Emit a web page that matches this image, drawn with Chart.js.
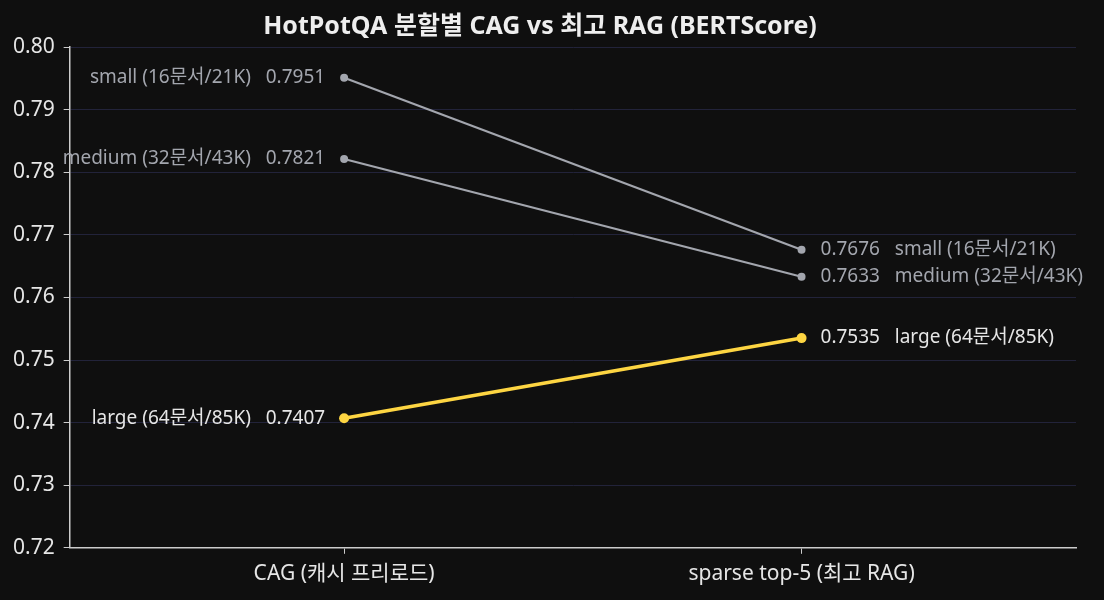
<!DOCTYPE html>
<html>
<head>
<meta charset="utf-8">
<script src="https://cdn.jsdelivr.net/npm/chart.js@4.4.1/dist/chart.umd.min.js"></script>
<style>
  html, body { margin: 0; padding: 0; background: #0f0f0f; }
  #wrap { width: 1104px; height: 600px; }
</style>
</head>
<body>
<div id="wrap"><canvas id="c" width="1104" height="600"></canvas></div>
<script>
const categories = ["CAG (캐시 프리로드)", "sparse top-5 (최고 RAG)"];
const splits = ["small (16문서/21K)", "medium (32문서/43K)", "large (64문서/85K)"];
const cagScores = [0.7951, 0.7821, 0.7407];
const ragScores = [0.7676, 0.7633, 0.7535];
const yTicks = [0.72, 0.73, 0.74, 0.75, 0.76, 0.77, 0.78, 0.79, 0.80];

const lineColors = ["#a3a6ae", "#a3a6ae", "#fdd542"];
const textColors = ["#a3a6ae", "#a3a6ae", "#e6e6e6"];
const widths = [2.2, 2.2, 3.6];
const radii = [4, 4, 5];
const FONT = "'Noto Sans', 'Noto Sans CJK KR', sans-serif";

const datasets = splits.map((name, i) => ({
  label: name,
  data: [{ x: 0, y: cagScores[i] }, { x: 1, y: ragScores[i] }],
  borderColor: lineColors[i],
  backgroundColor: lineColors[i],
  pointBackgroundColor: lineColors[i],
  pointBorderWidth: 0,
  borderWidth: widths[i],
  pointRadius: radii[i],
  fill: false,
  tension: 0
}));

const endLabels = {
  id: "endLabels",
  afterDatasetsDraw(chart) {
    const ctx = chart.ctx;
    ctx.save();
    ctx.font = "19px " + FONT;
    ctx.textBaseline = "middle";
    chart.data.datasets.forEach((ds, i) => {
      const pts = chart.getDatasetMeta(i).data;
      ctx.fillStyle = textColors[i];
      ctx.textAlign = "right";
      ctx.fillText(splits[i] + "   " + cagScores[i].toFixed(4), pts[0].x - 19, pts[0].y);
      ctx.textAlign = "left";
      ctx.fillText(ragScores[i].toFixed(4) + "   " + splits[i], pts[1].x + 19, pts[1].y);
    });
    ctx.restore();
  }
};

const bg = {
  id: "bg",
  beforeDraw(chart) {
    const ctx = chart.ctx;
    ctx.save();
    ctx.fillStyle = "#0f0f0f";
    ctx.fillRect(0, 0, chart.width, chart.height);
    ctx.restore();
  }
};

new Chart(document.getElementById("c"), {
  type: "line",
  data: { datasets },
  plugins: [bg, endLabels],
  options: {
    responsive: false,
    animation: false,
    layout: { padding: { left: 4, right: 28, top: 0, bottom: 5 } },
    plugins: {
      legend: { display: false },
      tooltip: { enabled: false },
      title: {
        display: true,
        text: "HotPotQA 분할별 CAG vs 최고 RAG (BERTScore)",
        color: "#eeeeee",
        font: { family: FONT, size: 25, weight: "bold" },
        padding: { top: 12, bottom: 5 }
      }
    },
    scales: {
      x: {
        type: "linear",
        min: -0.6,
        max: 1.6,
        afterBuildTicks: (axis) => { axis.ticks = [{ value: 0 }, { value: 1 }]; },
        ticks: {
          color: "#e6e6e6",
          font: { family: FONT, size: 21 },
          padding: 8,
          callback: (v) => categories[v]
        },
        grid: { drawOnChartArea: false, tickColor: "#cccccc", tickLength: 6 },
        border: { color: "#cccccc", width: 1.5 }
      },
      y: {
        min: 0.72,
        max: 0.80,
        afterBuildTicks: (axis) => { axis.ticks = yTicks.map(v => ({ value: v })); },
        ticks: {
          color: "#e6e6e6",
          font: { family: FONT, size: 21 },
          padding: 9,
          callback: (v) => v.toFixed(2)
        },
        grid: { color: "#22233a", lineWidth: 1, tickColor: "#cccccc", tickLength: 6 },
        border: { color: "#cccccc", width: 1.5 }
      }
    }
  }
});
</script>
</body>
</html>
